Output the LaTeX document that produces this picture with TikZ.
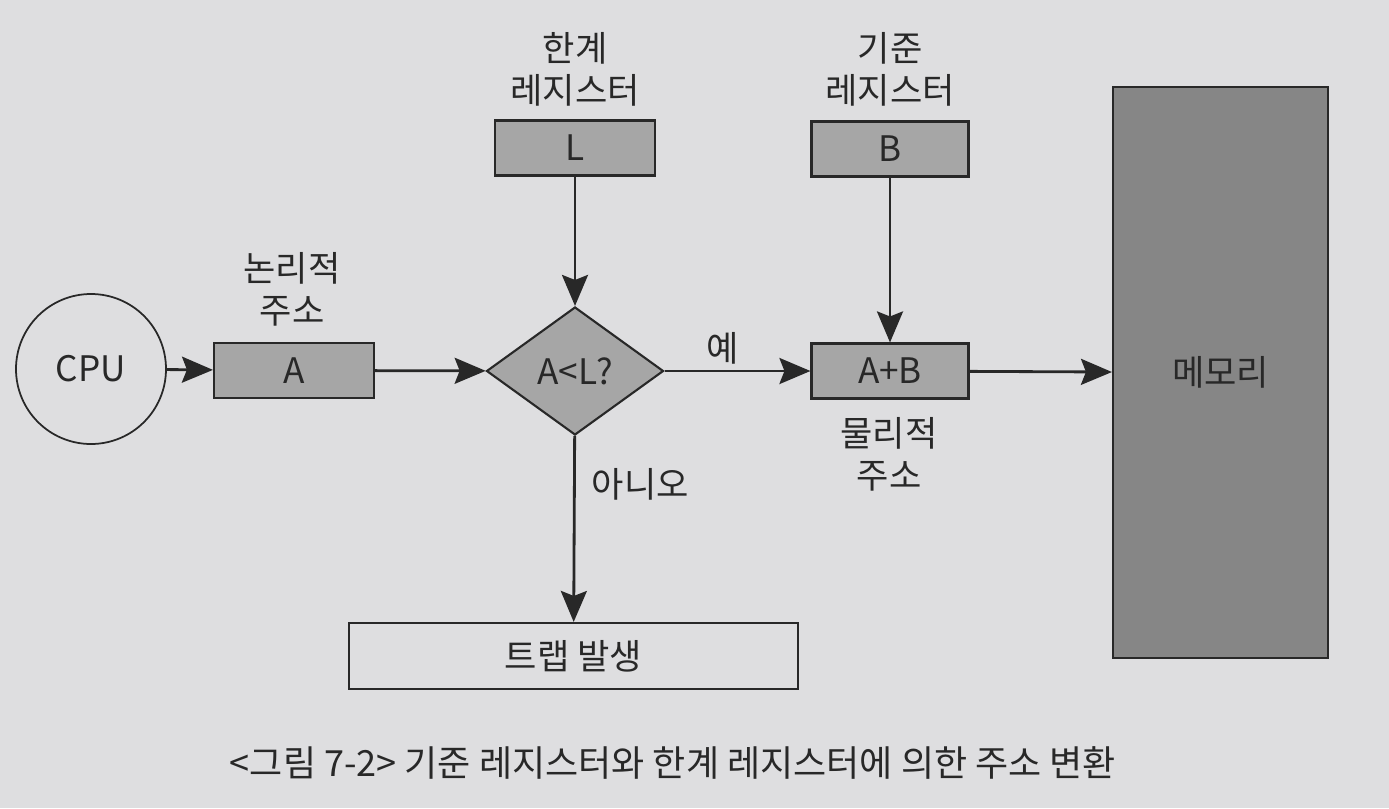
\documentclass[tikz,border=0pt]{standalone}
\usepackage{fontspec}
\setmainfont{Noto Sans CJK KR}
\usepackage{xcolor}
\usetikzlibrary{shapes.geometric}
\usetikzlibrary{arrows.meta}
\definecolor{paper}{RGB}{222,222,224}
\definecolor{regfill}{RGB}{166,166,166}
\definecolor{memfill}{RGB}{134,134,134}
\definecolor{ink}{RGB}{40,40,40}

\begin{document}
\begin{tikzpicture}[
		text=ink,
		font=\fontsize{20}{24}\selectfont,
		regbox/.style={draw=ink, line width=1.2pt, fill=regfill, minimum width=3.2cm, minimum height=1.1cm, inner sep=0pt},
		tag/.style={align=center},
		flow/.style={ink, line width=1.6pt, -{Stealth[length=0.62cm, width=0.52cm, inset=0.1cm]}},
	]
	    		\fill[paper] (0, 0) rectangle (27.78, -16.16);
	    		\useasboundingbox (0, 0) rectangle (27.78, -16.16);
	    		% blocks
	    		\node[draw=ink, line width=1pt, circle, minimum size=3cm] (cpu) at (1.82, -7.38) {CPU};
	    		\node[regbox] (addrA) at (5.88, -7.41) {A};
	    		\node[draw=ink, line width=1.2pt, fill=regfill, diamond, inner sep=0pt, minimum width=3.54cm, minimum height=2.56cm] (check) at (11.5, -7.42) {A<L?};
	    		\node[regbox] (regL) at (11.5, -2.96) {L};
	    		\node[regbox, minimum width=3.14cm] (regB) at (17.8, -2.98) {B};
	    		\node[regbox, minimum width=3.14cm] (sumAB) at (17.8, -7.42) {A+B};
	    		\node[draw=ink, line width=1.2pt, fill=memfill, minimum width=4.3cm, minimum height=11.42cm] (mem) at (24.41, -7.45) {메모리};
	    		\node[draw=ink, line width=1.2pt, minimum width=8.98cm, minimum height=1.32cm] (trap) at (11.47, -13.12) {트랩 발생};
	    		% texts
	    		\node[tag] (limitname) at (11.5, -1.38) {한계\\레지스터};
	    		\node[tag] (basename) at (17.8, -1.38) {기준\\레지스터};
	    		\node[tag] (logname) at (5.84, -5.78) {논리적\\주소};
	    		\node[tag] (physname) at (17.78, -9.08) {물리적\\주소};
	    		% arrows
	    		\draw[flow] (cpu) -- (addrA);
	    		\draw[flow] (addrA) -- (check);
	    		\draw[flow] (regL) -- (check);
	    		\draw[flow] (check) -- node[above, pos=0.4] {예} (sumAB);
	    		\draw[flow] (regB) -- (sumAB);
	    		\draw[flow] (sumAB) -- (mem);
	    		\draw[flow] (check) -- node[right, pos=0.26, xshift=0.2cm] {아니오} (trap);
	    		% caption
	    		\node[font=\fontsize{20.5}{24}\selectfont] (caption) at (13.46, -15.26) {<그림 7-2> 기준 레지스터와 한계 레지스터에 의한 주소 변환};
	    	\end{tikzpicture}
\end{document}
